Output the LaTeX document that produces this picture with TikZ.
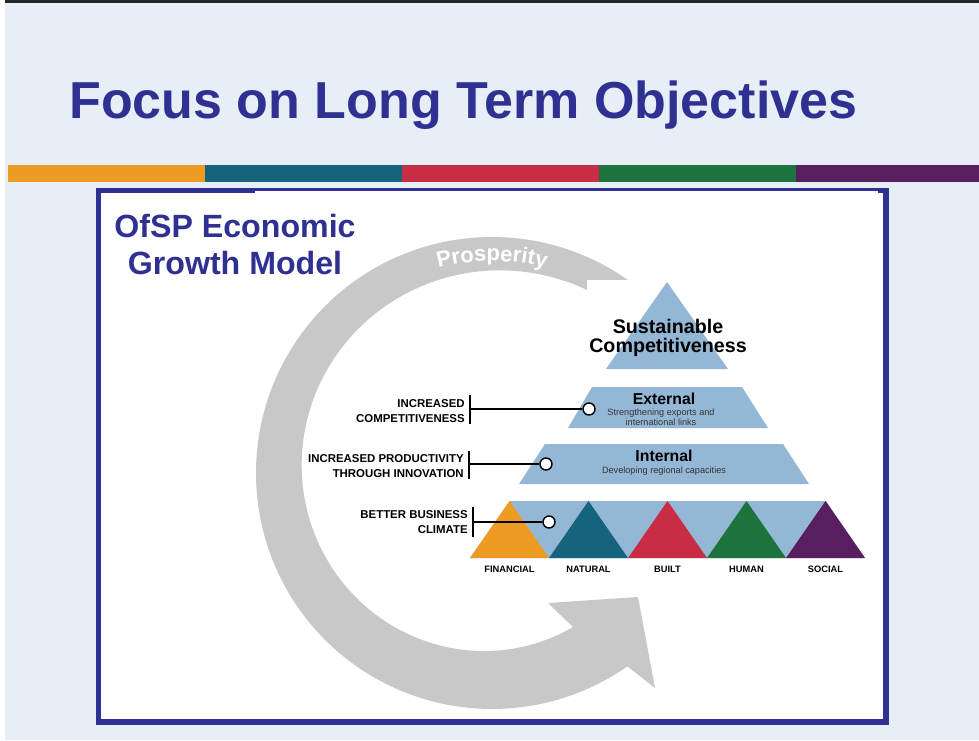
\documentclass[tikz,border=0pt]{standalone}
\usepackage{fontspec}
\setmainfont{Liberation Sans}
\usetikzlibrary{calc}
\usetikzlibrary{decorations.text}
\definecolor{slideblue}{RGB}{46,49,146}
\definecolor{slidebg}{RGB}{232,238,246}
\definecolor{pyrblue}{RGB}{148,183,214}
\definecolor{arrowgray}{RGB}{200,200,200}
\definecolor{capfinancial}{RGB}{237,155,35}
\definecolor{capnatural}{RGB}{21,99,125}
\definecolor{capbuilt}{RGB}{201,45,70}
\definecolor{caphuman}{RGB}{29,115,60}
\definecolor{capsocial}{RGB}{88,30,96}
\newcommand{\drawlink}{\draw[black, line width=0.7pt]}

\begin{document}
\begin{tikzpicture}[x=0.02cm, y=-0.02cm,
    hole/.style={circle, draw=black, line width=0.8pt, fill=white, minimum size=0.24cm, inner sep=0pt},
    tag/.style={anchor=base east, inner sep=0pt, font=\fontsize{6.5}{7}\selectfont\bfseries},
    captag/.style={anchor=base, inner sep=0pt, font=\fontsize{5.3}{6}\selectfont\bfseries},
    tierhead/.style={anchor=base, inner sep=0pt, font=\fontsize{9}{10}\selectfont\bfseries},
    tiersub/.style={anchor=base, inner sep=0pt, font=\fontsize{5.2}{6}\selectfont, text=black!80},
    tier/.style={fill=pyrblue}]
    \useasboundingbox (0,0) rectangle (979,740);

    % Slide background
    \fill[white] (0,0) rectangle (979,740);
    \fill[slidebg] (5,3) rectangle (979,740);
    \fill[black!85] (5,0) rectangle (979,3);

    % Title
    \node[anchor=base west, inner sep=0pt, text=slideblue, font=\fontsize{29.6}{34}\selectfont\bfseries] (title) at (69,118) {Focus on Long Term Objectives};

    % Colour bar
    \foreach \name [count=\i from 0] in {financial,natural,built,human,social} {
        \fill[cap\name] (8+197*\i,165) rectangle (205+197*\i,182);
    }

    % Panel with blue frame
    \fill[slideblue] (96,188) rectangle (889,725);
    \fill[white] (101,193) rectangle (883,719);
    \fill[white] (255,190.5) rectangle (878,193);

    \node[anchor=base, inner sep=0pt, text=slideblue, font=\fontsize{18.3}{20}\selectfont\bfseries] (model-a) at (235,237) {OfSP Economic};
    \node[anchor=base, inner sep=0pt, text=slideblue, font=\fontsize{18.3}{20}\selectfont\bfseries] (model-b) at (235,274) {Growth Model};

    % Prosperity arrow (ring narrows towards the tail)
    \coordinate (ring) at (492,473);
    \fill[arrowgray] ($(ring)+(-50:236)$) arc[start angle=-50, end angle=-305, radius=236]
        -- (655,688) -- (638,597) -- (548,603) -- (573,627)
        -- plot[smooth, domain=-298:-50, samples=60, variable=\t]
            ({492+(208+0.137*(\t+50))*cos(\t)}, {473+(208+0.137*(\t+50))*sin(\t)})
        -- cycle;
    \path[decorate, decoration={text along path, text align=center, text color=white,
        text={|\fontsize{12.5}{14}\selectfont\bfseries|Prosperity}}]
        ($(ring)+(-130:212)$) arc[start angle=-130, end angle=-50, radius=212];
    \fill[white] (587,280) rectangle (880,500);

    % Pyramid tiers
    \fill[tier] (667,282) -- (728,369) -- (606,369) -- cycle;
    \fill[tier] (592,387) -- (742,387) -- (768,428) -- (568,428) -- cycle;
    \fill[tier] (545,444) -- (783,444) -- (809,484) -- (519,484) -- cycle;
    \fill[tier] (510,501) -- (826,501) -- (865,558) -- (470,558) -- cycle;

    % Capitals along the base
    \foreach \name/\capname [count=\i from 0] in {financial/FINANCIAL, natural/NATURAL, built/BUILT, human/HUMAN, social/SOCIAL} {
        \fill[cap\name] (470+79*\i,558) -- (509.5+79*\i,501) -- (549+79*\i,558) -- cycle;
        \node[captag] (cap-\name) at (509.5+79*\i,572) {\capname};
    }

    % Tier texts
    \node[anchor=base, inner sep=0pt, font=\fontsize{11.2}{12}\selectfont\bfseries] (peak-a) at (668,333) {Sustainable};
    \node[anchor=base, inner sep=0pt, font=\fontsize{11.2}{12}\selectfont\bfseries] (peak-b) at (668,352) {Competitiveness};
    \node[tierhead] (ext-head) at (664,404) {External};
    \node[tiersub] (ext-sub-a) at (661,415) {Strengthening exports and};
    \node[tiersub] (ext-sub-b) at (661,425) {international links};
    \node[tierhead] (int-head) at (664,461) {Internal};
    \node[tiersub] (int-sub) at (664,473) {Developing regional capacities};

    % Side tags
    \node[tag] (comp-a) at (465,407) {INCREASED};
    \node[tag] (comp-b) at (465,422) {COMPETITIVENESS};
    \node[tag] (prod-a) at (464,462) {INCREASED PRODUCTIVITY};
    \node[tag] (prod-b) at (464,477) {THROUGH INNOVATION};
    \node[tag] (clim-a) at (468,518) {BETTER BUSINESS};
    \node[tag] (clim-b) at (468,533) {CLIMATE};

    % Brackets and links to the tiers
    \draw[line width=0.6pt] (470,395) -- (470,424);
    \draw[line width=0.6pt] (469,451) -- (469,479);
    \draw[line width=0.6pt] (473,507) -- (473,537);
    \coordinate (bar-comp) at (470,409);
    \coordinate (bar-prod) at (469,464);
    \coordinate (bar-clim) at (473,522);
    \node[hole] (dot-comp) at (589,409) {};
    \node[hole] (dot-prod) at (546,464) {};
    \node[hole] (dot-clim) at (549,522) {};
    \drawlink (bar-comp) -- (dot-comp);
    \drawlink (bar-prod) -- (dot-prod);
    \drawlink[line width=1pt] (bar-clim) -- (dot-clim);
\end{tikzpicture}
\end{document}
